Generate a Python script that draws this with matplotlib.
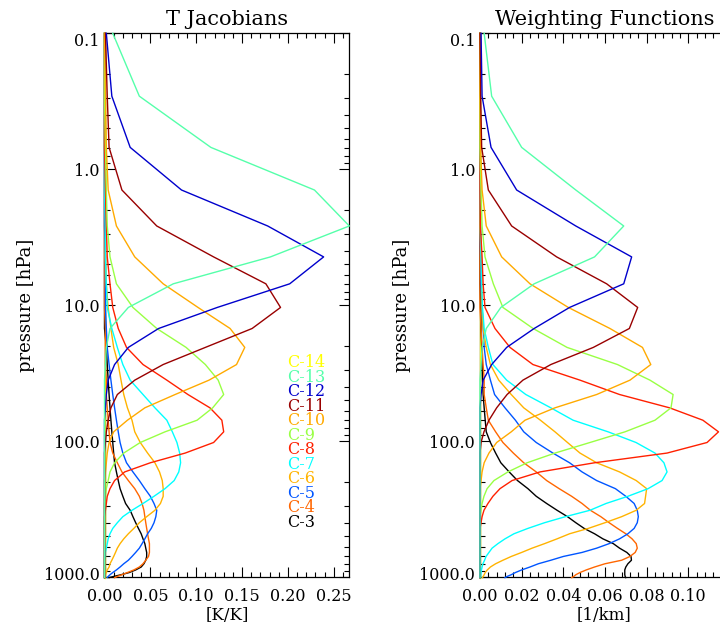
import matplotlib
matplotlib.use('Agg')
import matplotlib.pyplot as plt
from matplotlib.ticker import MultipleLocator, FixedLocator, LogLocator, NullFormatter
from matplotlib.transforms import ScaledTranslation

plt.rcParams['font.family'] = 'DejaVu Serif'

# pressure levels [hPa]
levels = [0.1, 0.29, 0.69, 1.42, 2.611, 4.407, 6.95, 10.37, 14.81, 20.4,
          27.26, 35.51, 45.29, 56.73, 69.97, 85.18, 102.05, 122.04, 143.84, 167.95,
          194.36, 222.94, 253.71, 286.6, 321.5, 358.28, 396.81, 436.95, 478.54, 521.46,
          565.54, 610.6, 656.43, 702.73, 749.12, 795.09, 839.95, 882.8, 922.46, 957.44,
          985.88, 1005.43]

channels = ['C-14', 'C-13', 'C-12', 'C-11', 'C-10', 'C-9', 'C-8', 'C-7', 'C-6', 'C-5', 'C-4', 'C-3']
colors = ['#FFFF00', '#55FFAA', '#0000CC', '#990000', '#FFAA00', '#99FF44',
          '#FF2000', '#00FFFF', '#FFB300', '#0055FF', '#FF6600', '#000000']

# temperature jacobians [K/K]
jac_c14 = [0.0] * 42
jac_c13 = [0.009, 0.038, 0.116, 0.229, 0.267, 0.181, 0.075, 0.026, 0.006, 0.002, 0.001] + [0.0] * 31
jac_c12 = [0.002, 0.008, 0.028, 0.084, 0.178, 0.239, 0.202, 0.123, 0.059, 0.026, 0.011,
           0.004, 0.002, 0.001] + [0.0] * 28
jac_c11 = [0.001, 0.003, 0.005, 0.019, 0.057, 0.119, 0.176, 0.192, 0.161, 0.110, 0.064,
           0.033, 0.014, 0.007, 0.004, 0.002, 0.001] + [0.0] * 25
jac_c10 = [0.0, 0.001, 0.002, 0.004, 0.013, 0.033, 0.064, 0.102, 0.137, 0.153, 0.144,
           0.114, 0.077, 0.044, 0.025, 0.010, 0.005, 0.003, 0.002, 0.001] + [0.0] * 22
jac_c9 = [0.0, 0.0, 0.001, 0.002, 0.003, 0.006, 0.013, 0.031, 0.057, 0.089, 0.110,
          0.124, 0.130, 0.118, 0.101, 0.066, 0.039, 0.021, 0.011, 0.006, 0.004,
          0.002, 0.001] + [0.0] * 19
jac_c8 = [0.0, 0.0, 0.0, 0.001, 0.002, 0.003, 0.006, 0.009, 0.015, 0.024, 0.042,
          0.068, 0.091, 0.115, 0.128, 0.130, 0.119, 0.088, 0.050, 0.022, 0.011,
          0.006, 0.003, 0.002, 0.001] + [0.0] * 17
jac_c7 = [0.0, 0.0, 0.0, 0.0, 0.001, 0.001, 0.002, 0.003, 0.008, 0.014, 0.020,
          0.028, 0.042, 0.055, 0.068, 0.074, 0.079, 0.082, 0.083, 0.081, 0.076,
          0.066, 0.054, 0.042, 0.030, 0.020, 0.014, 0.009, 0.006, 0.004, 0.003,
          0.002, 0.001, 0.001] + [0.0] * 8
jac_c6 = [0.0, 0.0, 0.0, 0.001, 0.001, 0.001, 0.002, 0.004, 0.007, 0.010, 0.015,
          0.018, 0.021, 0.025, 0.030, 0.033, 0.039, 0.047, 0.055, 0.060, 0.063,
          0.064, 0.064, 0.061, 0.055, 0.046, 0.038, 0.032, 0.026, 0.021, 0.017,
          0.014, 0.012, 0.010, 0.008, 0.006, 0.005, 0.003, 0.002, 0.001, 0.001, 0.001]
jac_c5 = [0.0, 0.0, 0.0, 0.0, 0.0, 0.001, 0.001, 0.001, 0.002, 0.003, 0.005,
          0.007, 0.009, 0.011, 0.013, 0.015, 0.017, 0.020, 0.024, 0.031, 0.038,
          0.044, 0.050, 0.054, 0.057, 0.056, 0.054, 0.051, 0.047, 0.044, 0.041,
          0.038, 0.034, 0.030, 0.026, 0.021, 0.017, 0.013, 0.009, 0.006, 0.004, 0.003]
jac_c4 = [0.0] * 8 + [0.001, 0.001, 0.001, 0.002, 0.002, 0.003, 0.004, 0.005, 0.006,
          0.009, 0.014, 0.019, 0.026, 0.033, 0.038, 0.041, 0.043, 0.044, 0.045,
          0.046, 0.047, 0.048, 0.049, 0.049, 0.049, 0.048, 0.045, 0.042, 0.038,
          0.032, 0.025, 0.019, 0.014, 0.011]
jac_c3 = [0.0] * 9 + [0.002, 0.003, 0.004, 0.005, 0.006, 0.007, 0.008, 0.009, 0.010,
          0.011, 0.013, 0.015, 0.017, 0.020, 0.023, 0.028, 0.031, 0.034, 0.037,
          0.040, 0.042, 0.044, 0.045, 0.046, 0.046, 0.045, 0.043, 0.040, 0.034,
          0.027, 0.018, 0.010, 0.005]

# weighting functions [1/km]
wf_c14 = [0.0] * 42
wf_c13 = [0.002, 0.0056, 0.020, 0.046, 0.069, 0.055, 0.026, 0.010, 0.003, 0.001, 0.0005] + [0.0] * 31
wf_c12 = [0.0005, 0.001, 0.0053, 0.0176, 0.046, 0.0728, 0.069, 0.043, 0.026, 0.0128,
          0.0056, 0.0015, 0.0005] + [0.0] * 29
wf_c11 = [0.0, 0.0003, 0.0008, 0.004, 0.0152, 0.0368, 0.0608, 0.0757, 0.0717, 0.0544,
          0.034, 0.0206, 0.013, 0.008, 0.0043, 0.0019, 0.0005] + [0.0] * 25
wf_c10 = [0.0, 0.0, 0.0003, 0.001, 0.003, 0.0104, 0.024, 0.0424, 0.0624, 0.078, 0.082,
          0.072, 0.056, 0.036, 0.0216, 0.015, 0.008, 0.0043, 0.002, 0.001, 0.0005] + [0.0] * 21
wf_c9 = [0.0, 0.0, 0.0, 0.0005, 0.001, 0.0024, 0.0064, 0.011, 0.0255, 0.0418, 0.066,
         0.0816, 0.0927, 0.0917, 0.084, 0.0696, 0.0528, 0.036, 0.0226, 0.0134, 0.0067,
         0.0034, 0.0019, 0.001, 0.0005] + [0.0] * 17
wf_c8 = [0.0, 0.0, 0.0, 0.0, 0.0002, 0.001, 0.0015, 0.0024, 0.0072, 0.0144, 0.0254,
         0.048, 0.067, 0.091, 0.107, 0.1145, 0.109, 0.0898, 0.055, 0.0288, 0.0154,
         0.0096, 0.0062, 0.0038, 0.0019, 0.001, 0.0005] + [0.0] * 15
wf_c7 = [0.0, 0.0, 0.0, 0.0, 0.0003, 0.0005, 0.0008, 0.0012, 0.002, 0.004, 0.0062,
         0.0128, 0.022, 0.034, 0.0447, 0.0615, 0.0749, 0.084, 0.0883, 0.0898, 0.0874,
         0.0807, 0.071, 0.0605, 0.0528, 0.041, 0.031, 0.023, 0.0163, 0.012, 0.0086,
         0.0058, 0.0043, 0.0029, 0.0022, 0.0014, 0.001, 0.0007, 0.0005, 0.0004, 0.0003, 0.0003]
wf_c6 = [0.0, 0.0, 0.0, 0.0, 0.0, 0.0005, 0.0008, 0.001, 0.0015, 0.003, 0.005,
         0.009, 0.015, 0.021, 0.029, 0.036, 0.042, 0.048, 0.056, 0.067, 0.075,
         0.080, 0.0795, 0.079, 0.075, 0.068, 0.060, 0.052, 0.043, 0.037, 0.031,
         0.025, 0.020, 0.015, 0.011, 0.0075, 0.005, 0.0035, 0.0025, 0.002, 0.0015, 0.0012]
wf_c5 = [0.0, 0.0, 0.0, 0.0, 0.0, 0.0003, 0.0005, 0.001, 0.0015, 0.002, 0.003,
         0.005, 0.007, 0.012, 0.017, 0.021, 0.027, 0.035, 0.043, 0.049, 0.056,
         0.065, 0.070, 0.074, 0.0755, 0.076, 0.0755, 0.074, 0.071, 0.067, 0.062,
         0.056, 0.049, 0.040, 0.034, 0.028, 0.024, 0.020, 0.017, 0.015, 0.013, 0.012]
wf_c4 = [0.0] * 8 + [0.0005, 0.001, 0.0015, 0.002, 0.002, 0.003, 0.004, 0.0075, 0.011,
         0.016, 0.021, 0.027, 0.032, 0.038, 0.044, 0.049, 0.053, 0.058, 0.062,
         0.066, 0.070, 0.073, 0.075, 0.0755, 0.0745, 0.072, 0.068, 0.060, 0.055,
         0.051, 0.048, 0.046, 0.045, 0.044]
wf_c3 = [0.0] * 7 + [0.0003, 0.0005, 0.0008, 0.001, 0.0012, 0.0015, 0.002, 0.0025, 0.003,
         0.005, 0.0075, 0.010, 0.014, 0.018, 0.023, 0.027, 0.032, 0.037, 0.042,
         0.046, 0.050, 0.055, 0.059, 0.064, 0.067, 0.0705, 0.0725, 0.0727, 0.071,
         0.070, 0.0695, 0.0695, 0.0695, 0.0697, 0.070]

jacobians = [jac_c14, jac_c13, jac_c12, jac_c11, jac_c10, jac_c9,
             jac_c8, jac_c7, jac_c6, jac_c5, jac_c4, jac_c3]
weights = [wf_c14, wf_c13, wf_c12, wf_c11, wf_c10, wf_c9,
           wf_c8, wf_c7, wf_c6, wf_c5, wf_c4, wf_c3]

W, H = 720, 628
fig = plt.figure(figsize=(W / 100, H / 100), dpi=100)
ax1 = fig.add_axes([104.5 / W, (H - 577.3) / H, 244.8 / W, 544 / H])
# right panel runs past the edge of the picture, as in the original
wf_max = 0.1195
ax2 = fig.add_axes([480 / W, (H - 577.3) / H, 2083 * wf_max / W, 544 / H])

ylab = ['0.1', '1.0', '10.0', '100.0', '1000.0']


def style(ax, xmaj, xmin, xfmt, right=True):
    ax.set_yscale('log')
    ax.set_ylim(1000, 0.1)
    ax.yaxis.set_major_locator(FixedLocator([0.1, 1, 10, 100, 1000]))
    ax.set_yticklabels(ylab)
    ax.yaxis.set_minor_locator(LogLocator(base=10, subs=range(2, 10)))
    ax.yaxis.set_minor_formatter(NullFormatter())
    ax.xaxis.set_major_locator(MultipleLocator(xmaj))
    ax.xaxis.set_minor_locator(MultipleLocator(xmin))
    ax.xaxis.set_major_formatter(xfmt)
    ax.tick_params(which='both', direction='in', top=True, right=right, width=0.8, labelsize=11.5)
    ax.tick_params(which='major', length=7.5)
    ax.tick_params(which='minor', length=3.8)
    ax.tick_params(axis='y', pad=3.5)
    ax.tick_params(axis='x', pad=7.5)
    for s in ax.spines.values():
        s.set_linewidth(0.9)
    ax.set_ylabel('pressure [hPa]', fontsize=13, labelpad=6)


# draw C-14 first so C-3 .. C-13 order stays on top as in the original
order = [0] + list(range(11, 0, -1))
for i in order:
    ax1.plot(jacobians[i], levels, color=colors[i], lw=1.0, zorder=3, clip_on=False)
    ax2.plot(weights[i], levels, color=colors[i], lw=1.0, zorder=3, clip_on=False)

ax1.set_xlim(0, max(max(j) for j in jacobians))
ax2.set_xlim(0, wf_max)
style(ax1, 0.05, 0.01, '{x:.2f}')
style(ax2, 0.02, 0.004, '{x:.2f}', right=False)
ax1.set_ylim(1000, 0.1)
ax2.set_ylim(1000, 0.1)

ax1.set_title('T Jacobians', fontsize=15, pad=6)
ax2.set_title('Weighting Functions', fontsize=15, pad=6)
ax1.set_xlabel('[K/K]', fontsize=12, labelpad=2)
ax2.set_xlabel('[1/km]', fontsize=12, labelpad=2)

for k, (name, c) in enumerate(zip(channels, colors)):
    ax1.text(0.745, 0.394 - k * 0.02665, name, color=c, fontsize=11.5,
             va='center', ha='left', transform=ax1.transAxes)

# end labels sit slightly inside the axis range in the original
for ax in (ax1, ax2):
    lbls = ax.get_yticklabels()
    lbls[0].set_transform(lbls[0].get_transform() + ScaledTranslation(0, -0.06, fig.dpi_scale_trans))
    lbls[-1].set_transform(lbls[-1].get_transform() + ScaledTranslation(0, 0.04, fig.dpi_scale_trans))

fig.savefig('out.png', dpi=100)
